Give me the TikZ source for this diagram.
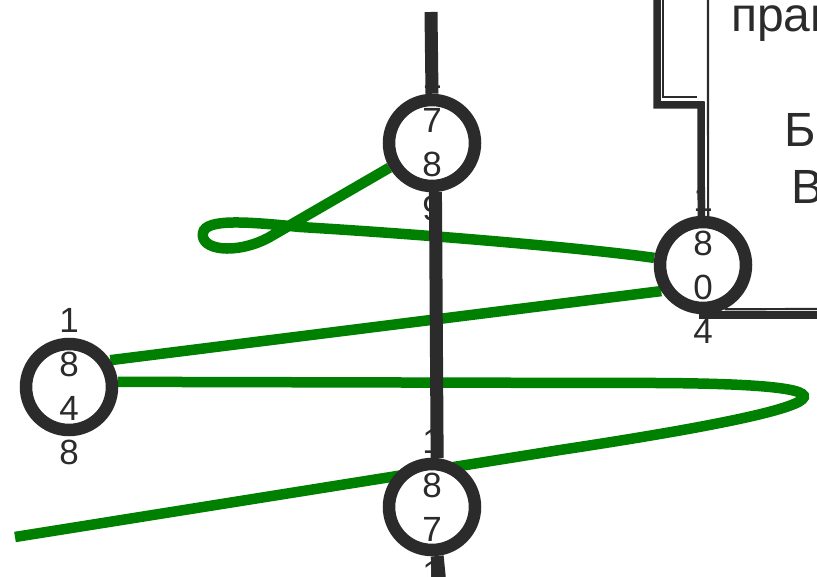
\documentclass[tikz,border=0pt]{standalone}
\usepackage{fontspec}
\setmainfont{Liberation Sans}
\usetikzlibrary{backgrounds}
\definecolor{ink}{HTML}{2B2B2B}
\definecolor{cgreen}{HTML}{008000}
\tikzset{
  every picture/.style={line width=0.5pt,draw=ink},
  stn/.style={circle,draw=ink,fill=white,line width=12.5pt,minimum size=86pt,inner sep=0pt},
  yr/.style={align=center,inner sep=0pt,text=ink,font=\fontsize{35}{44}\selectfont},
  lbl/.style={inner sep=0pt,anchor=base west,text=ink,font=\fontsize{48}{58}\selectfont},
  blk/.style={draw=ink,line width=13pt},
  grn/.style={draw=cgreen,line width=10.5pt},
  railk/.style={draw=ink,line width=7.5pt},
  railt/.style={draw=ink,line width=2.2pt},
}

\begin{document}
\begin{tikzpicture}[x=1pt,y=-1pt]
  \useasboundingbox (0,0) rectangle (817,577);
  \clip (0,0) rectangle (817,577);
  \node[stn] (c1789) at (432,143) {};
  \node[stn] (c1804) at (703,265) {};
  \node[stn] (c1848) at (69,387) {};
  \node[stn] (c1871) at (432,507) {};
  \node[yr] (y1789) at (c1789) {1\\7\\8\\9};
  \node[yr] (y1804) at (c1804) {1\\8\\0\\4};
  \node[yr] (y1848) at (c1848) {1\\8\\4\\8};
  \node[yr] (y1871) at (c1871) {1\\8\\7\\1};
  \node[lbl] (tpra) at (731,32) {прав};
  \node[lbl] (tb) at (784,147) {Б};
  \node[lbl] (tv) at (791,204) {В};
  \coordinate (ltop) at (431,12);
  \coordinate (lbot) at (440,585);
  \coordinate (lp1) at (268,238);
  \coordinate (lp2) at (203,233);
  \coordinate (lp3) at (300,227);
  \coordinate (gr1) at (620,383);
  \coordinate (gr2) at (560,450);
  \coordinate (gend) at (15,537);
  \coordinate (rk1) at (657,-5);
  \coordinate (rk2) at (701,105);
  \coordinate (rk3) at (822,315);
  \coordinate (rt1) at (663,-5);
  \coordinate (rt2) at (697,97);
  \coordinate (rt3) at (708,-5);
  \coordinate (rt5) at (822,309);
  \begin{scope}[on background layer]
    \draw[grn] (c1789) -- (lp1) .. controls (235,255) and (200,250) .. (lp2)
      .. controls (205,218) and (250,222) .. (lp3) .. controls (450,236) and (600,250) .. (c1804);
    \draw[grn] (c1804.212) -- (c1848.33);
    \draw[grn] (c1848.6) -- (gr1) .. controls (860,382) and (890,400) .. (gr2) -- (gend);
  \end{scope}
  \draw[railk] (rk1) |- (rk2) -- (c1804.92);
  \draw[railk] (c1804.south) |- (rk3);
  \draw[railt] (rt1) |- (rt2);
  \draw[railt] (rt3) -- (c1804.84);
  \draw[railt] (c1804.-64) -- (rt5);
  \draw[blk] (ltop) -- (c1789.90);
  \draw[blk] (c1789.-86) -- (c1871.84);
  \draw[blk] (c1871.-84) -- (lbot);
\end{tikzpicture}
\end{document}
